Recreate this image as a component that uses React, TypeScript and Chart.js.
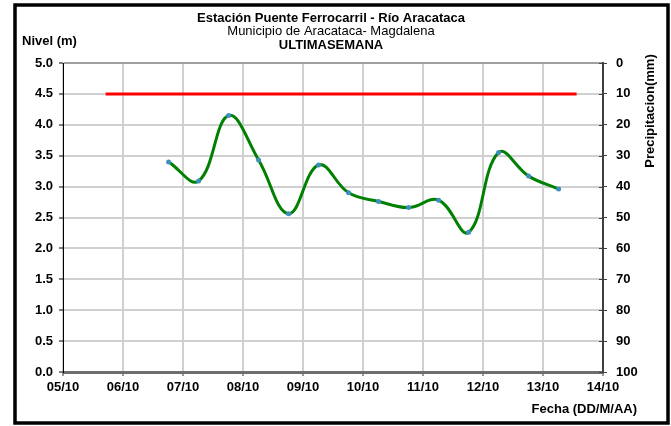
import React, { useEffect, useRef } from 'react';
import { Chart, registerables } from 'chart.js';

Chart.register(...registerables);

// Fecha (día de octubre con fracción del día)
const fechas = [6.76, 7.26, 7.76, 8.26, 8.76, 9.26, 9.76, 10.26, 10.76, 11.26, 11.76, 12.26, 12.76, 13.26];
// Nivel (m)
const niveles = [3.4, 3.09, 4.15, 3.43, 2.56, 3.35, 2.9, 2.76, 2.66, 2.78, 2.26, 3.55, 3.17, 2.96];
// Nivel de alerta (línea roja)
const alertaFechas = [5.71, 13.56];
const alertaNivel = [4.5, 4.5];

const etiquetasX = ['05/10', '06/10', '07/10', '08/10', '09/10', '10/10', '11/10', '12/10', '13/10', '14/10'];
const etiquetasNivel = ['0.0', '0.5', '1.0', '1.5', '2.0', '2.5', '3.0', '3.5', '4.0', '4.5', '5.0'];
const etiquetasPrecip = ['0', '10', '20', '30', '40', '50', '60', '70', '80', '90', '100'];

const titulo = ['Estación Puente Ferrocarril - Río Aracataca', 'Municipio de Aracataca- Magdalena', 'ULTIMASEMANA'];
const tituloNivel = 'Nivel (m)';
const tituloPrecip = 'Precipitacion(mm)';
const tituloFecha = 'Fecha (DD/M/AA)';

const FONT = '"Liberation Sans", Arial, sans-serif';

const textPlugin = {
  id: 'textos',
  beforeDraw(chart: any) {
    const ctx = chart.ctx;
    ctx.save();
    ctx.fillStyle = '#ffffff';
    ctx.fillRect(0, 0, chart.width, chart.height);
    ctx.restore();
  },
  afterDraw(chart: any) {
    const ctx = chart.ctx;
    ctx.save();
    ctx.strokeStyle = '#000';
    ctx.lineWidth = 3.5;
    ctx.strokeRect(15, 5, 653, 418);

    ctx.fillStyle = '#000';
    ctx.textBaseline = 'middle';
    ctx.textAlign = 'center';
    ctx.font = `bold 13px ${FONT}`;
    ctx.fillText(titulo[0], 331, 18);
    ctx.font = `13px ${FONT}`;
    ctx.fillText(titulo[1], 331, 31);
    ctx.font = `bold 13px ${FONT}`;
    ctx.fillText(titulo[2], 331, 45);

    ctx.textAlign = 'left';
    ctx.fillText(tituloNivel, 22, 41);
    ctx.textAlign = 'right';
    ctx.fillText(tituloFecha, 637, 409);

    ctx.save();
    ctx.translate(650, 111);
    ctx.rotate(-Math.PI / 2);
    ctx.textAlign = 'center';
    ctx.fillText(tituloPrecip, 0, 0);
    ctx.restore();

    const y1 = chart.scales.y1;
    ctx.strokeStyle = '#404040';
    ctx.lineWidth = 1;
    y1.ticks.forEach((_t: any, i: number) => {
      const py = Math.round(y1.getPixelForTick(i)) + 0.5;
      ctx.beginPath();
      ctx.moveTo(y1.left - 4, py);
      ctx.lineTo(y1.left, py);
      ctx.stroke();
    });
    ctx.restore();
  },
};

export default function App() {
  const ref = useRef<HTMLCanvasElement>(null);

  useEffect(() => {
    if (!ref.current) return;
    const tickFont = { family: FONT, size: 13, weight: 'bold' as const };
    const chart = new Chart(ref.current, {
      type: 'line',
      data: {
        datasets: [
          {
            label: 'Alerta',
            data: alertaFechas.map((x, i) => ({ x, y: alertaNivel[i] })),
            borderColor: '#ff0000',
            borderWidth: 3,
            pointRadius: 0,
            tension: 0,
            yAxisID: 'y',
          },
          {
            label: 'Nivel',
            data: fechas.map((x, i) => ({ x, y: niveles[i] })),
            borderColor: '#008000',
            borderWidth: 3,
            tension: 0.4,
            pointRadius: 2.5,
            pointBackgroundColor: '#3d8fbf',
            pointBorderColor: '#3d8fbf',
            pointBorderWidth: 0,
            yAxisID: 'y',
          },
        ],
      },
      options: {
        responsive: false,
        animation: false,
        layout: { padding: { top: 63, left: 0, right: 0, bottom: 0 } },
        plugins: { legend: { display: false }, tooltip: { enabled: false }, title: { display: false } },
        scales: {
          x: {
            type: 'linear',
            min: 5,
            max: 14,
            ticks: {
              stepSize: 1,
              color: '#000',
              font: tickFont,
              padding: 4,
              maxRotation: 0,
              callback: (v: any) => etiquetasX[Math.round(Number(v) - 5)],
            },
            grid: { color: '#d0d0d0', lineWidth: 2, tickLength: 4, tickColor: '#333', tickWidth: 1 },
            border: { color: '#6e6e6e', width: 3 },
            afterFit: (s: any) => { s.height = 54; },
          },
          y: {
            type: 'linear',
            position: 'left',
            min: 0,
            max: 5,
            ticks: {
              stepSize: 0.5,
              color: '#000',
              font: tickFont,
              padding: 6,
              callback: (v: any) => etiquetasNivel[Math.round(Number(v) * 2)],
            },
            grid: {
              color: (c: any) => (c.tick && c.tick.value === 5 ? '#a0a0a0' : '#d0d0d0'),
              lineWidth: 2,
              tickLength: 4,
              tickColor: '#000',
              tickWidth: 1,
            },
            border: { color: '#000', width: 1 },
            afterFit: (s: any) => { s.width = 63; },
          },
          y1: {
            type: 'linear',
            position: 'right',
            min: 0,
            max: 100,
            reverse: true,
            ticks: {
              stepSize: 10,
              color: '#000',
              font: tickFont,
              padding: 9,
              callback: (v: any) => etiquetasPrecip[Math.round(Number(v) / 10)],
            },
            grid: { drawOnChartArea: false, tickLength: 4, tickColor: '#404040', tickWidth: 1 },
            border: { color: '#404040', width: 2 },
            afterFit: (s: any) => { s.width = 68; },
          },
        },
      },
      plugins: [textPlugin],
    });
    return () => chart.destroy();
  }, []);

  return (
    <div style={{ position: 'absolute', left: 0, top: 0, width: 671, height: 426 }}>
      <canvas ref={ref} width={671} height={426} style={{ display: 'block' }} />
    </div>
  );
}
